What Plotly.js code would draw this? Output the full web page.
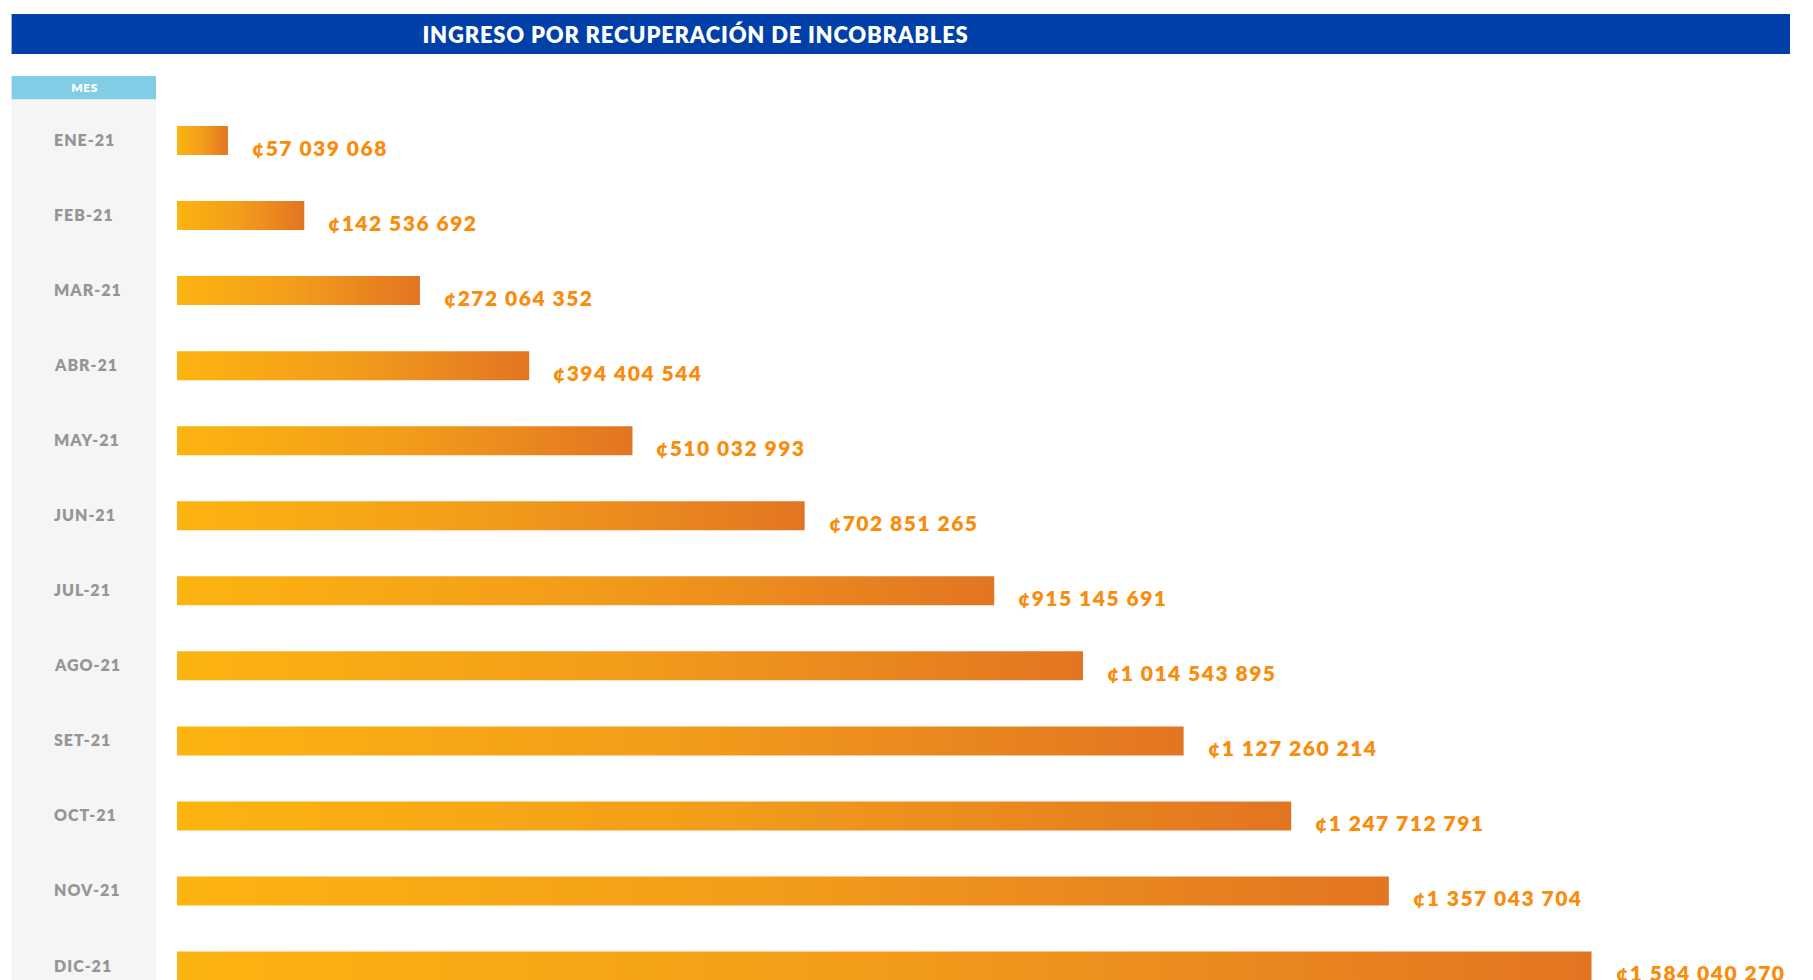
<!DOCTYPE html>
<html>
<head>
<meta charset="utf-8">
<script src="https://cdn.plot.ly/plotly-3.0.1.min.js"></script>
<style>
  html, body { margin: 0; padding: 0; background: #ffffff; overflow: hidden; }
  #chart { width: 1813px; height: 980px; }
</style>
</head>
<body>
<div id="chart"></div>
<script>
// ---- Data ----
const months = ["ENE-21", "FEB-21", "MAR-21", "ABR-21", "MAY-21", "JUN-21",
                "JUL-21", "AGO-21", "SET-21", "OCT-21", "NOV-21", "DIC-21"];
const ingreso = [57039068, 142536692, 272064352, 394404544, 510032993, 702851265,
                 915145691, 1014543895, 1127260214, 1247712791, 1357043704, 1584040270];
const chartTitle = "INGRESO POR RECUPERACIÓN DE INCOBRABLES";
const headerLabel = "MES";
const currency = "¢";

// ---- Geometry helpers (page pixels -> paper coords) ----
const W = 1813, H = 980;
const M = { l: 177, r: 0, t: 100, b: 0 };
const plotW = W - M.l - M.r, plotH = H - M.t - M.b;
const px = x => (x - M.l) / plotW;
const py = y => (H - M.b - y) / plotH;

function fmt(v) {
  return String(v).replace(/\B(?=(\d{3})+(?!\d))/g, " ");
}

const trace = {
  type: "bar",
  orientation: "h",
  x: ingreso,
  y: months,
  width: 0.386,
  marker: { color: "#F39A1A", line: { width: 0 } },
  hoverinfo: "skip",
  showlegend: false
};

const annotations = [];
months.forEach((m, i) => {
  annotations.push({
    xref: "paper", yref: "y", x: px(52), y: m,
    xanchor: "left", yanchor: "middle", align: "left", yshift: 1,
    text: m, showarrow: false,
    font: { family: "Lato", size: 16, color: "#959595", weight: 800 }
  });
  annotations.push({
    xref: "x", yref: "y", x: ingreso[i], y: m,
    xanchor: "left", yanchor: "middle", align: "left", xshift: 22, yshift: -6.5,
    text: currency + fmt(ingreso[i]), showarrow: false,
    font: { family: "Lato", size: 21, color: "#FA8C0C", weight: 800 }
  });
});
annotations.push({
  xref: "paper", yref: "paper", x: px(84), y: py(88),
  xanchor: "center", yanchor: "middle",
  text: headerLabel, showarrow: false,
  font: { family: "Lato", size: 12, color: "#ffffff", weight: 800 }
});

const shapes = [
  { type: "rect", xref: "paper", yref: "paper", layer: "below",
    x0: px(11.6), x1: px(1790), y0: py(54), y1: py(14),
    fillcolor: "#0040A8", line: { width: 0 } },
  { type: "rect", xref: "paper", yref: "paper", layer: "below",
    x0: px(11.6), x1: px(156), y0: py(99.5), y1: py(76),
    fillcolor: "#80CDE5", line: { width: 0 } },
  { type: "rect", xref: "paper", yref: "paper", layer: "below",
    x0: px(11.6), x1: px(156), y0: py(990), y1: py(99.5),
    fillcolor: "#F5F5F5", line: { width: 0 } }
];

const layout = {
  width: W, height: H,
  margin: M,
  paper_bgcolor: "#ffffff",
  plot_bgcolor: "rgba(0,0,0,0)",
  title: {
    text: chartTitle,
    xref: "paper", x: px(695.5), xanchor: "center",
    yref: "container", y: 1 - 35 / H, yanchor: "middle",
    font: { family: "Lato", size: 22, color: "#ffffff", weight: 800 }
  },
  xaxis: { range: [0, plotW / 0.893 * 1e6], visible: false, showgrid: false, zeroline: false, fixedrange: true },
  yaxis: { type: "category", categoryarray: months, categoryorder: "array",
           range: [11.186, -0.5397], visible: false, showgrid: false, zeroline: false, fixedrange: true },
  shapes: shapes,
  annotations: annotations,
  showlegend: false
};

function applyStyling(gd) {
  const ns = "http://www.w3.org/2000/svg";
  const svg = gd.querySelector("svg.main-svg");
  let defs = svg.querySelector("defs");
  if (!defs) { defs = document.createElementNS(ns, "defs"); svg.prepend(defs); }
  const grad = document.createElementNS(ns, "linearGradient");
  grad.setAttribute("id", "barGrad");
  grad.setAttribute("x1", "0"); grad.setAttribute("y1", "0");
  grad.setAttribute("x2", "1"); grad.setAttribute("y2", "0");
  [["0", "#FCB410"], ["0.5", "#F39C1B"], ["1", "#E27522"]].forEach(([o, c]) => {
    const s = document.createElementNS(ns, "stop");
    s.setAttribute("offset", o); s.setAttribute("stop-color", c);
    grad.appendChild(s);
  });
  defs.appendChild(grad);
  gd.querySelectorAll(".barlayer .point path").forEach(p => { p.style.fill = "url(#barGrad)"; });

  // letter spacing to match the wide lettering of the original
  gd.querySelectorAll(".annotation-text").forEach(t => {
    const fs = parseFloat(t.style.fontSize);
    if (fs >= 19) t.style.letterSpacing = "1.5px";
    else if (fs >= 14) t.style.letterSpacing = "1px";
    else t.style.letterSpacing = "0.5px";
  });
  const tt = gd.querySelector(".gtitle");
  if (tt) tt.style.letterSpacing = "0.8px";
}

Plotly.newPlot("chart", [trace], layout, { staticPlot: true, displayModeBar: false })
  .then(gd => applyStyling(gd));
</script>
</body>
</html>
